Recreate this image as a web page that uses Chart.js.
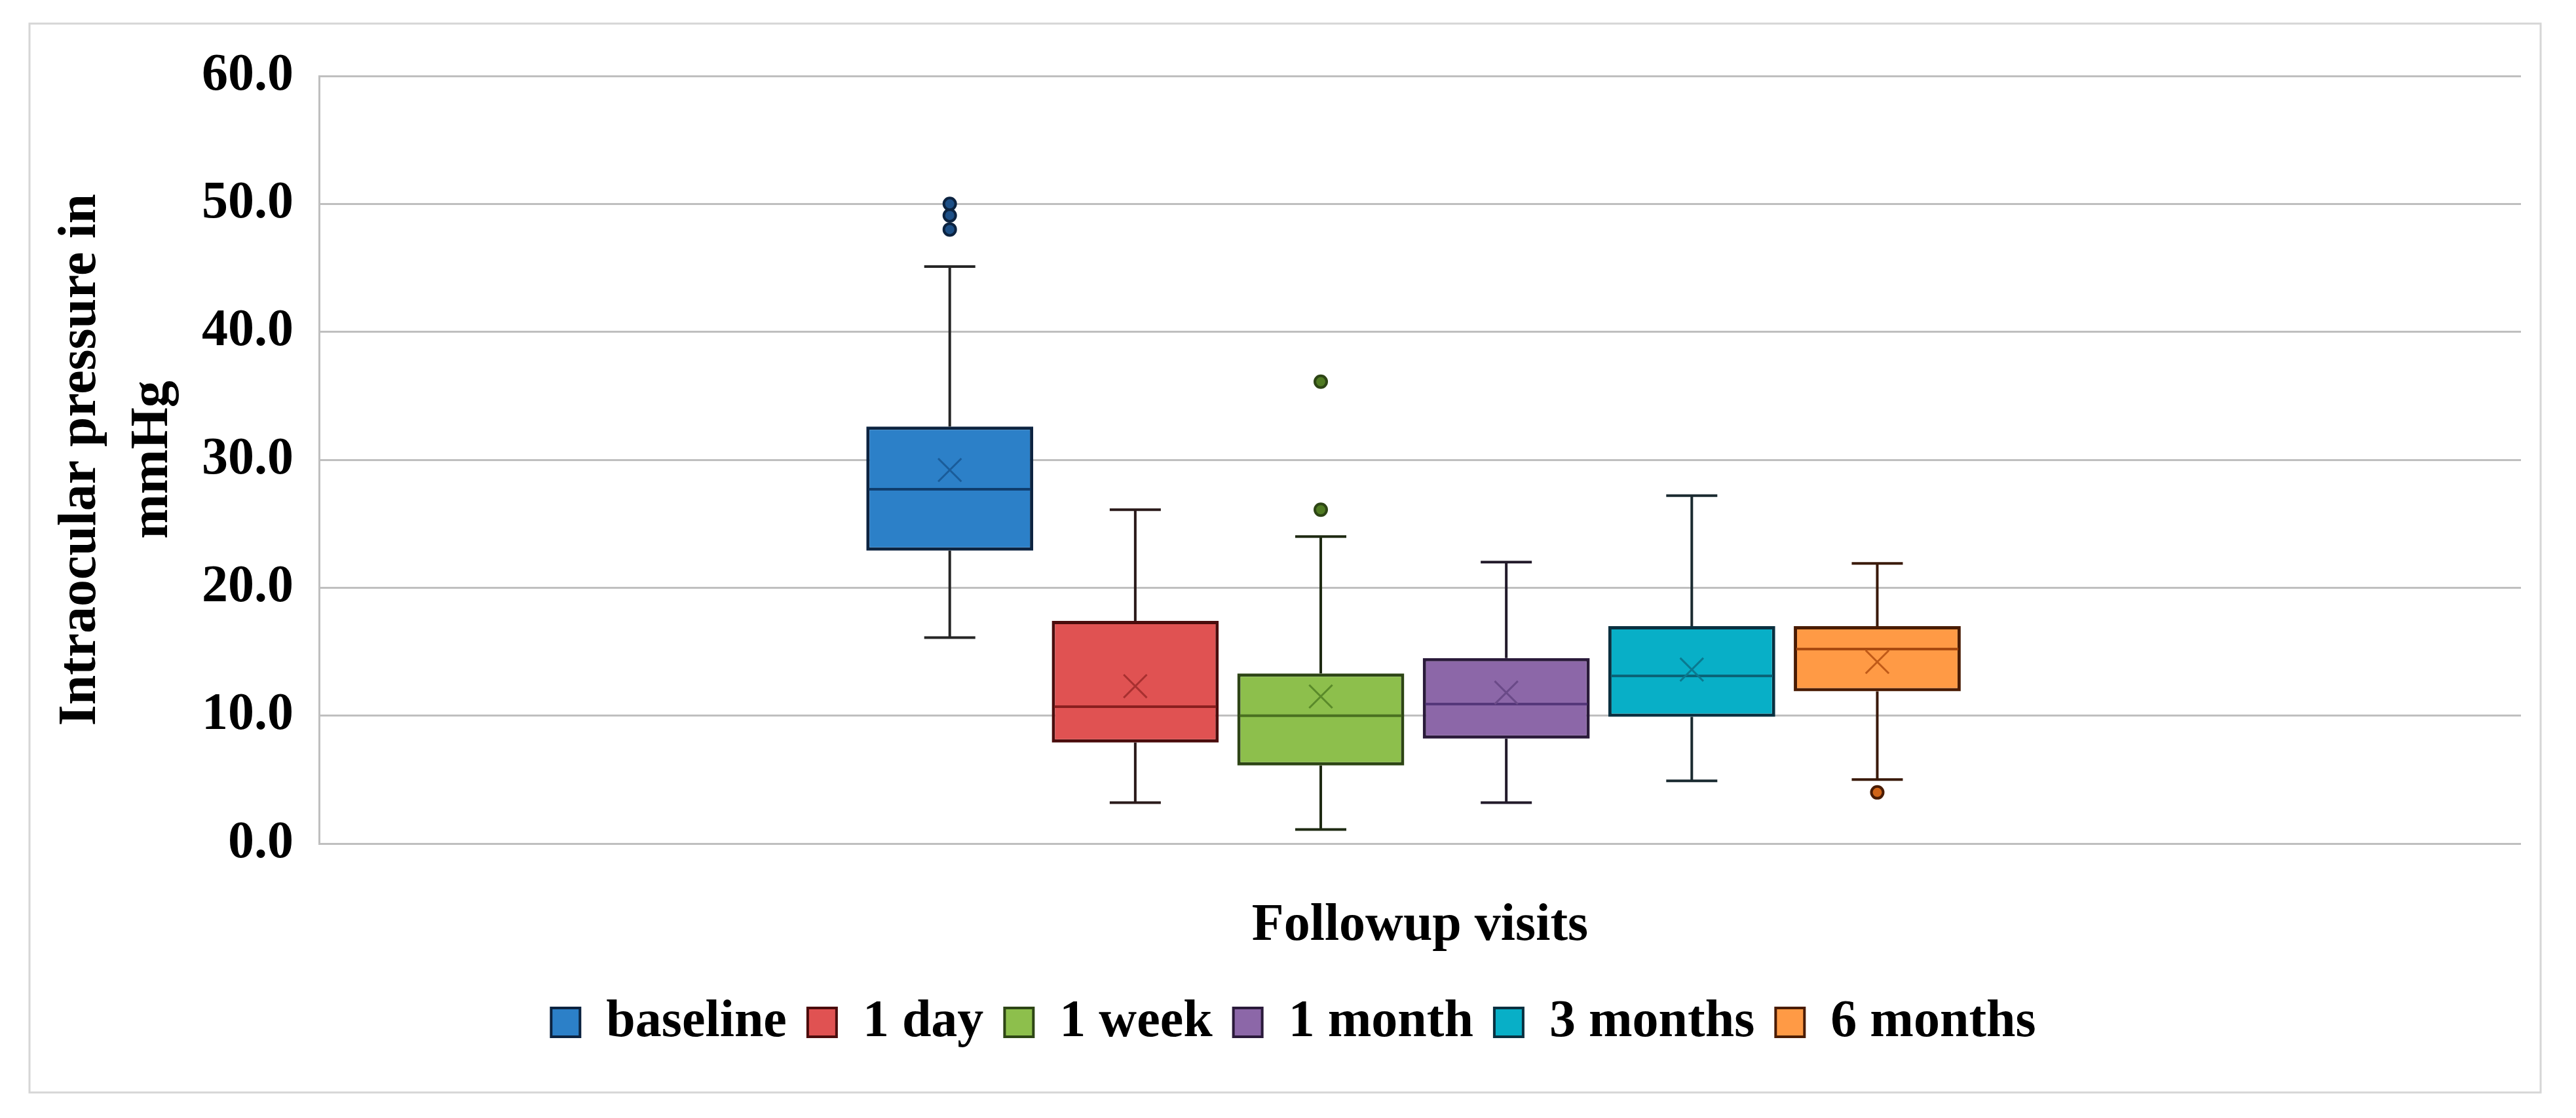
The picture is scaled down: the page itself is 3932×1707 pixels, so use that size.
<!DOCTYPE html>
<html>
<head>
<meta charset="utf-8">
<script src="https://cdn.jsdelivr.net/npm/chart.js@4.4.1/dist/chart.umd.min.js"></script>
<style>
  html, body { margin: 0; padding: 0; background: #fff; }
  #wrap { width: 3932px; height: 1707px; }
</style>
</head>
<body>
<div id="wrap"><canvas id="iopChart"></canvas></div>
<script>
const visits = ["baseline", "1 day", "1 week", "1 month", "3 months", "6 months"];
const positions = [1, 2, 3, 4, 5, 6];

const whiskerLow  = [16.1, 3.2, 1.1, 3.2, 4.9, 5.0];
const q1          = [22.9, 7.9, 6.1, 8.2, 9.9, 11.9];
const median      = [27.7, 10.7, 10.0, 10.9, 13.1, 15.2];
const q3          = [32.6, 17.4, 13.3, 14.5, 17.0, 17.0];
const whiskerHigh = [45.1, 26.1, 24.0, 22.0, 27.2, 21.9];
const means       = [29.2, 12.3, 11.5, 11.8, 13.6, 14.2];

const outliers = [
    [48.0, 49.1, 50.0],
    [],
    [26.1, 36.1],
    [],
    [],
    [4.0]
];

const yTicks = [0, 10, 20, 30, 40, 50, 60];

const fills    = ["#2c80c8", "#e05252", "#8dbf4c", "#8c67a8", "#08afc7", "#ff9a45"];
const borders  = ["#0c2340", "#4a0c0c", "#2d4515", "#2a1a3a", "#0a3040", "#4a1c04"];
const medians  = ["#0f3d6e", "#8a1f1f", "#4a7020", "#55377a", "#0a6478", "#a84a10"];
const crosses  = ["#1a5c9a", "#a83030", "#5a8a2a", "#6a4a88", "#0a7a90", "#c05a18"];
const whiskers = ["#262626", "#2a1a1a", "#1e2a12", "#221a2a", "#1a2a30", "#3a1a0a"];
const dots     = ["#1d4f86", "#a83030", "#4f7a22", "#55377a", "#0a6478", "#d06418"];

const serif = "'Liberation Serif', 'Times New Roman', serif";

// outlier points, flattened from the per-visit lists
const outlierPoints = [];
const outlierFill = [];
const outlierEdge = [];
outliers.forEach((list, i) => {
    list.forEach(v => {
        outlierPoints.push({ x: positions[i], y: v });
        outlierFill.push(dots[i]);
        outlierEdge.push(borders[i]);
    });
});

const boxExtras = {
    id: 'boxExtras',
    afterLayout(chart) {
        // legend sits a little right of the full-width centre in the original
        chart.legend.left += 28;
        chart.legend.right += 28;
    },
    beforeDraw(chart) {
        const ctx = chart.ctx;
        ctx.save();
        ctx.strokeStyle = '#d6d6d6';
        ctx.lineWidth = 3;
        ctx.strokeRect(45, 36, 3833, 1632);
        ctx.restore();
    },
    beforeDatasetsDraw(chart) {
        const { ctx, scales: { x, y } } = chart;
        ctx.save();
        ctx.lineWidth = 4;
        for (let i = 0; i < visits.length; i++) {
            const px = x.getPixelForValue(positions[i]);
            const hi = y.getPixelForValue(whiskerHigh[i]);
            const lo = y.getPixelForValue(whiskerLow[i]);
            ctx.strokeStyle = whiskers[i];
            ctx.beginPath();
            ctx.moveTo(px, y.getPixelForValue(q3[i]));
            ctx.lineTo(px, hi);
            ctx.moveTo(px, y.getPixelForValue(q1[i]));
            ctx.lineTo(px, lo);
            ctx.moveTo(px - 39, hi);
            ctx.lineTo(px + 39, hi);
            ctx.moveTo(px - 39, lo);
            ctx.lineTo(px + 39, lo);
            ctx.stroke();
        }
        ctx.restore();
    },
    afterDatasetDraw(chart, args) {
        if (args.meta.type !== 'bar') return;
        const { ctx, scales: { y } } = chart;
        ctx.save();
        ctx.lineWidth = 4;
        args.meta.data.forEach((bar, i) => {
            const py = y.getPixelForValue(median[i]);
            ctx.strokeStyle = medians[i];
            ctx.beginPath();
            ctx.moveTo(bar.x - bar.width / 2 + 4, py);
            ctx.lineTo(bar.x + bar.width / 2 - 4, py);
            ctx.stroke();
        });
        ctx.restore();
    }
};

const ctx = document.getElementById('iopChart').getContext('2d');

new Chart(ctx, {
    type: 'bar',
    data: {
        datasets: [{
            type: 'scatter',
            label: 'mean',
            data: positions.map((p, i) => ({ x: p, y: means[i] })),
            pointStyle: 'crossRot',
            pointRadius: 25,
            pointBorderWidth: 3,
            pointBorderColor: crosses,
            pointBackgroundColor: crosses,
            order: 1
        },
        {
            type: 'scatter',
            label: 'outliers',
            data: outlierPoints,
            pointStyle: 'circle',
            pointRadius: 9,
            pointBorderWidth: 4,
            pointBorderColor: outlierEdge,
            pointBackgroundColor: outlierFill,
            order: 0
        },
        {
            type: 'bar',
            label: 'box',
            data: positions.map((p, i) => ({ x: p, y: [q1[i], q3[i]] })),
            backgroundColor: fills,
            borderColor: borders,
            borderWidth: 5,
            borderSkipped: false,
            barPercentage: 0.9,
            categoryPercentage: 1.0,
            order: 2
        }]
    },
    options: {
        responsive: true,
        maintainAspectRatio: false,
        animation: false,
        devicePixelRatio: 1,
        layout: {
            padding: { left: 45, right: 84, top: 116, bottom: 96 }
        },
        plugins: {
            tooltip: { enabled: false },
            legend: {
                display: true,
                position: 'bottom',
                labels: {
                    color: '#000',
                    font: { family: serif, size: 80, weight: 'bold' },
                    boxWidth: 44,
                    boxHeight: 44,
                    padding: 32,
                    generateLabels: () => visits.map((v, i) => ({
                        text: v,
                        fillStyle: fills[i],
                        strokeStyle: borders[i],
                        lineWidth: 4,
                        fontColor: '#000',
                        hidden: false,
                        datasetIndex: 2
                    }))
                }
            }
        },
        scales: {
            x: {
                type: 'linear',
                min: -2.4,
                max: 9.47,
                offset: false,
                afterBuildTicks: scale => {
                    scale.ticks = positions.map(v => ({ value: v }));
                },
                ticks: { display: false },
                grid: { display: false, drawTicks: false },
                border: { display: false },
                title: {
                    display: true,
                    text: 'Followup visits',
                    color: '#000',
                    font: { family: serif, size: 80, weight: 'bold', lineHeight: 1.2 },
                    padding: { top: 78, bottom: 27 }
                }
            },
            y: {
                min: 0,
                max: 60,
                afterBuildTicks: scale => {
                    scale.ticks = yTicks.map(v => ({ value: v }));
                },
                afterFit: scale => {
                    scale.width = 442;
                },
                ticks: {
                    color: '#000',
                    padding: 39,
                    font: { family: serif, size: 80, weight: 'bold' },
                    callback: v => Number(v).toFixed(1)
                },
                grid: { color: '#bfbfbf', lineWidth: 3, drawTicks: false },
                border: { display: true, color: '#bfbfbf', width: 3 },
                title: {
                    display: true,
                    text: ['Intraocular pressure in', 'mmHg'],
                    color: '#000',
                    font: { family: serif, size: 82, weight: 'bold', lineHeight: 1.34 },
                    padding: { top: 24, bottom: 0 }
                }
            }
        }
    },
    plugins: [boxExtras]
});
</script>
</body>
</html>
